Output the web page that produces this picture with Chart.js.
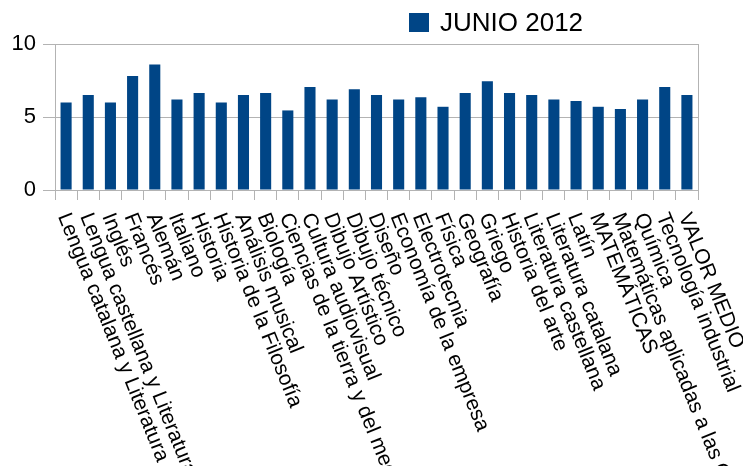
<!DOCTYPE html>
<html>
<head>
<meta charset="utf-8">
<script src="https://cdn.jsdelivr.net/npm/chart.js@4/dist/chart.umd.min.js"></script>
<style>
  html, body { margin: 0; padding: 0; background: #fff; }
  #wrap { width: 743px; height: 466px; }
</style>
</head>
<body>
<div id="wrap"><canvas id="c" width="743" height="466"></canvas></div>
<script>
const categories = [
  "Lengua catalana y Literatura",
  "Lengua castellana y Literatura",
  "Inglés",
  "Francés",
  "Alemán",
  "Italiano",
  "Historia",
  "Historia de la Filosofía",
  "Análisis musical",
  "Biología",
  "Ciencias de la tierra y del medio ambiente",
  "Cultura audiovisual",
  "Dibujo Artístico",
  "Dibujo técnico",
  "Diseño",
  "Economía de la empresa",
  "Electrotecnia",
  "Física",
  "Geografía",
  "Griego",
  "Historia del arte",
  "Literatura castellana",
  "Literatura catalana",
  "Latín",
  "MATEMÁTICAS",
  "Matemáticas aplicadas a las CCSS",
  "Química",
  "Tecnología industrial",
  "VALOR MEDIO"
];
const seriesName = "JUNIO 2012";
const junio2012 = [
  6.0, 6.5, 6.0, 7.8, 8.6, 6.2, 6.65, 6.0, 6.5, 6.65,
  5.45, 7.05, 6.2, 6.9, 6.5, 6.2, 6.35, 5.7, 6.65, 7.45,
  6.65, 6.5, 6.2, 6.1, 5.7, 5.55, 6.2, 7.05, 6.5
];
const yTicks = [0, 5, 10];

const FONT = "'Liberation Sans', Arial, sans-serif";
const GRID = "#b3b3b3";
const BAR = "#004586";

const labelPlugin = {
  id: 'rotLabels',
  afterDraw(chart) {
    const ctx = chart.ctx;
    const xs = chart.scales.x;
    ctx.save();
    ctx.fillStyle = '#000';
    ctx.font = "21px " + FONT;
    ctx.textAlign = 'left';
    ctx.textBaseline = 'middle';
    categories.forEach((lab, i) => {
      const x = xs.getPixelForValue(i);
      ctx.save();
      ctx.translate(x - 3, xs.top + 24);
      ctx.rotate(68 * Math.PI / 180);
      ctx.fillText(lab, 0, 0);
      ctx.restore();
    });
    // legend
    ctx.fillStyle = BAR;
    ctx.fillRect(409, 13, 20, 19);
    ctx.fillStyle = '#000';
    ctx.font = "26px " + FONT;
    ctx.textAlign = 'left';
    ctx.textBaseline = 'middle';
    ctx.fillText(chart.data.datasets[0].label, 440, 24);
    ctx.restore();
  }
};

new Chart(document.getElementById('c'), {
  type: 'bar',
  data: {
    labels: categories,
    datasets: [{
      label: seriesName,
      data: junio2012,
      backgroundColor: BAR,
      borderWidth: 0,
      barPercentage: 0.5,
      categoryPercentage: 1.0
    }]
  },
  options: {
    responsive: false,
    animation: false,
    devicePixelRatio: 1,
    layout: { padding: { top: 44, right: 45, left: 0, bottom: 0 } },
    plugins: {
      legend: { display: false },
      tooltip: { enabled: false }
    },
    scales: {
      x: {
        offset: true,
        grid: {
          offset: true,
          drawOnChartArea: true,
          color: (c) => (c.type !== 'tick' || c.index === 0) ? GRID : 'rgba(0,0,0,0)',
          tickColor: GRID,
          tickLength: 10,
          lineWidth: 1
        },
        border: { color: GRID },
        ticks: { display: false },
        afterFit: (s) => { s.height = 276; }
      },
      y: {
        min: 0,
        max: 10,
        afterBuildTicks: (s) => { s.ticks = yTicks.map(v => ({ value: v })); },
        grid: { color: GRID, tickColor: GRID, tickLength: 12 },
        border: { color: GRID },
        ticks: {
          color: '#000',
          padding: 7,
          font: { family: FONT, size: 22 }
        },
        afterFit: (s) => { s.width = 55; }
      }
    }
  },
  plugins: [labelPlugin]
});
</script>
</body>
</html>
